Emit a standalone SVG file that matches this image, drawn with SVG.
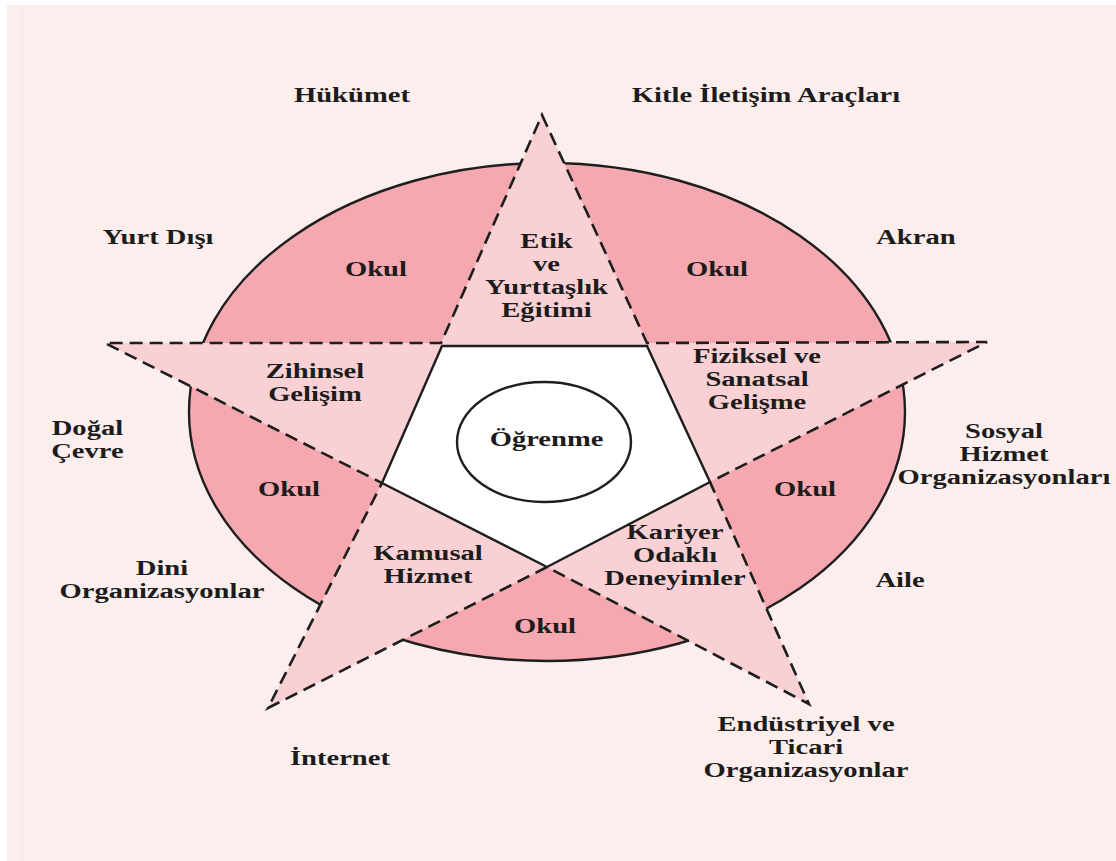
<svg xmlns="http://www.w3.org/2000/svg" width="1116" height="861" viewBox="0 0 1116 861">
  <style>
    .lbl { font-family: "Liberation Serif", "Times New Roman", serif; font-weight: bold; font-size: 20.5px; fill: #1c1c1c; text-anchor: middle; }
    .dash { fill: none; stroke: #1e1e1e; stroke-width: 2.6; stroke-dasharray: 13 7; stroke-linejoin: miter; }
    .solid { stroke: #1e1e1e; stroke-width: 2.4; }
  </style>

  <!-- page background -->
  <rect x="0" y="0" width="1116" height="861" fill="#ffffff"/>
  <rect x="7" y="5" width="1109" height="856" fill="#fdeeee"/>
  <line x1="22" y1="5" x2="22" y2="861" stroke="#fae4e4" stroke-width="1"/>

  <!-- school ellipse -->
  <g id="school">
    <ellipse cx="547" cy="412" rx="358" ry="249" fill="#f5a8af" class="solid"/>
  </g>

  <!-- five-pointed star -->
  <g id="star">
    <polygon points="542,115 647,343 987,342 710,482 809,704 547,567 268,708 382,483 105,343 441,343" fill="#f9d0d4"/>
  </g>

  <!-- dashed star outline -->
  <g id="connectors">
    <polygon class="dash" points="542,115 647,343 987,342 710,482 809,704 547,567 268,708 382,483 105,343 441,343"/>
  </g>

  <!-- inner pentagon and learning core -->
  <g id="core">
    <polygon points="442,346 647,346 710,482 547,567 382,483" fill="#ffffff" class="solid" stroke-linejoin="miter"/>
    <ellipse cx="544" cy="442" rx="87" ry="60" fill="none" class="solid"/>
  </g>

  <!-- labels (horizontally stretched lettering) -->
  <g transform="scale(1.395,1)">
    <g id="hukumet"><text class="lbl" x="252.3" y="102">Hükümet</text></g>
    <g id="kitle"><text class="lbl" x="549.1" y="102">Kitle İletişim Araçları</text></g>
    <g id="yurt-disi"><text class="lbl" x="113.3" y="244">Yurt Dışı</text></g>
    <g id="akran"><text class="lbl" x="656.6" y="244">Akran</text></g>
    <g id="okul-tl"><text class="lbl" x="269.5" y="276">Okul</text></g>
    <g id="okul-tr"><text class="lbl" x="514.0" y="276">Okul</text></g>
    <g id="etik">
      <text class="lbl" x="391.8" y="248">Etik</text>
      <text class="lbl" x="391.8" y="271">ve</text>
      <text class="lbl" x="391.8" y="294">Yurttaşlık</text>
      <text class="lbl" x="391.8" y="317">Eğitimi</text>
    </g>
    <g id="zihinsel">
      <text class="lbl" x="225.8" y="378">Zihinsel</text>
      <text class="lbl" x="225.8" y="401">Gelişim</text>
    </g>
    <g id="fiziksel">
      <text class="lbl" x="542.7" y="363">Fiziksel ve</text>
      <text class="lbl" x="542.7" y="386">Sanatsal</text>
      <text class="lbl" x="542.7" y="409">Gelişme</text>
    </g>
    <g id="ogrenme"><text class="lbl" x="391.8" y="446">Öğrenme</text></g>
    <g id="dogal">
      <text class="lbl" x="62.7" y="435">Doğal</text>
      <text class="lbl" x="62.7" y="458">Çevre</text>
    </g>
    <g id="okul-ml"><text class="lbl" x="207.2" y="496">Okul</text></g>
    <g id="okul-mr"><text class="lbl" x="577.1" y="496">Okul</text></g>
    <g id="sosyal">
      <text class="lbl" x="719.7" y="438">Sosyal</text>
      <text class="lbl" x="719.7" y="461">Hizmet</text>
      <text class="lbl" x="719.7" y="484">Organizasyonları</text>
    </g>
    <g id="kamusal">
      <text class="lbl" x="306.8" y="560">Kamusal</text>
      <text class="lbl" x="306.8" y="583">Hizmet</text>
    </g>
    <g id="kariyer">
      <text class="lbl" x="483.9" y="539">Kariyer</text>
      <text class="lbl" x="483.9" y="562">Odaklı</text>
      <text class="lbl" x="483.9" y="585">Deneyimler</text>
    </g>
    <g id="dini">
      <text class="lbl" x="116.1" y="575">Dini</text>
      <text class="lbl" x="116.1" y="598">Organizasyonlar</text>
    </g>
    <g id="aile"><text class="lbl" x="645.2" y="587">Aile</text></g>
    <g id="okul-b"><text class="lbl" x="390.7" y="633">Okul</text></g>
    <g id="endustriyel">
      <text class="lbl" x="577.8" y="731">Endüstriyel ve</text>
      <text class="lbl" x="577.8" y="754">Ticari</text>
      <text class="lbl" x="577.8" y="777">Organizasyonlar</text>
    </g>
    <g id="internet"><text class="lbl" x="243.7" y="765">İnternet</text></g>
  </g>
</svg>
